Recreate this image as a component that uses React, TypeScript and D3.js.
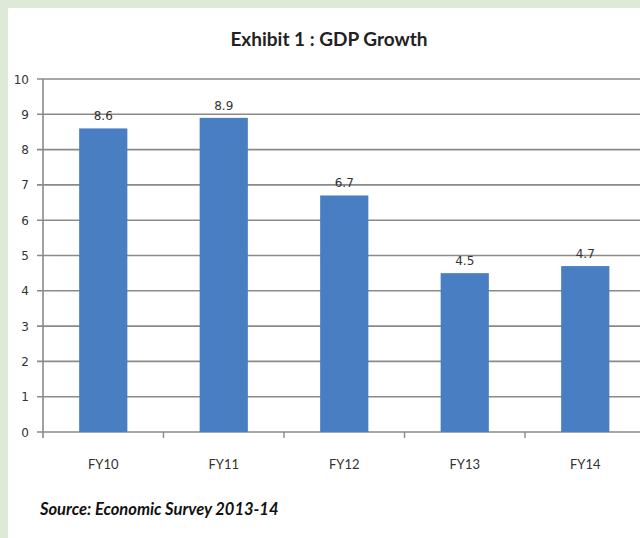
import React from "react";
import * as d3 from "d3";

const categories = ["FY10", "FY11", "FY12", "FY13", "FY14"];
const values = [8.6, 8.9, 6.7, 4.5, 4.7];
const yTicks = [0, 1, 2, 3, 4, 5, 6, 7, 8, 9, 10];
const title = "Exhibit 1 : GDP Growth";
const source = "Source: Economic Survey 2013-14";

export default function App() {
  const W = 640, H = 538;
  const x = d3.scaleBand<string>().domain(categories).range([43, 645.5]).paddingInner(0.6).paddingOuter(0.3);
  const y = d3.scaleLinear().domain([0, 10]).range([432, 79]);
  const step = x.step();
  const x0 = 43;
  const font = "Lato, 'Open Sans', sans-serif";
  return (
    <svg width={W} height={H} style={{ position: "absolute", left: 0, top: 0 }}>
      <rect x={0} y={0} width={W} height={H} fill="#dfe9d8" />
      <rect x={8} y={8} width={W - 8} height={H - 8} fill="#ffffff" />
      <text x={329} y={46} textAnchor="middle" fontFamily={font} fontWeight="bold" fontSize={19} fill="#222">{title}</text>
      {yTicks.map((t) => (
        <g key={t}>
          <line x1={37} x2={W} y1={y(t)} y2={y(t)} stroke="#8a8a8a" strokeWidth={1.6} />
          <text x={29} y={y(t) + 4.5} textAnchor="end" fontFamily="'DejaVu Sans', sans-serif" fontSize={12} fill="#333">{t}</text>
        </g>
      ))}
      <line x1={x0} x2={x0} y1={y(10)} y2={y(0) + 6} stroke="#8a8a8a" strokeWidth={1.6} />
      {categories.map((c, i) => (
        <line key={"t" + c} x1={x0 + step * (i + 1)} x2={x0 + step * (i + 1)} y1={y(0)} y2={y(0) + 6} stroke="#8a8a8a" strokeWidth={1.4} />
      ))}
      {categories.map((c, i) => (
        <g key={c}>
          <rect x={x(c)!} y={y(values[i])} width={x.bandwidth()} height={y(0) - y(values[i])} fill="#4a7ec3" />
          <text x={x(c)! + x.bandwidth() / 2} y={y(values[i]) - 8} textAnchor="middle" fontFamily="'DejaVu Sans', sans-serif" fontSize={12} fill="#333">{values[i]}</text>
          <text x={x(c)! + x.bandwidth() / 2} y={469} textAnchor="middle" fontFamily={font} fontSize={13} fill="#333">{c}</text>
        </g>
      ))}
      <text x={40} y={515} fontFamily={font} fontStyle="italic" fontWeight="bold" fontSize={16.5} fill="#111">{source}</text>
    </svg>
  );
}
